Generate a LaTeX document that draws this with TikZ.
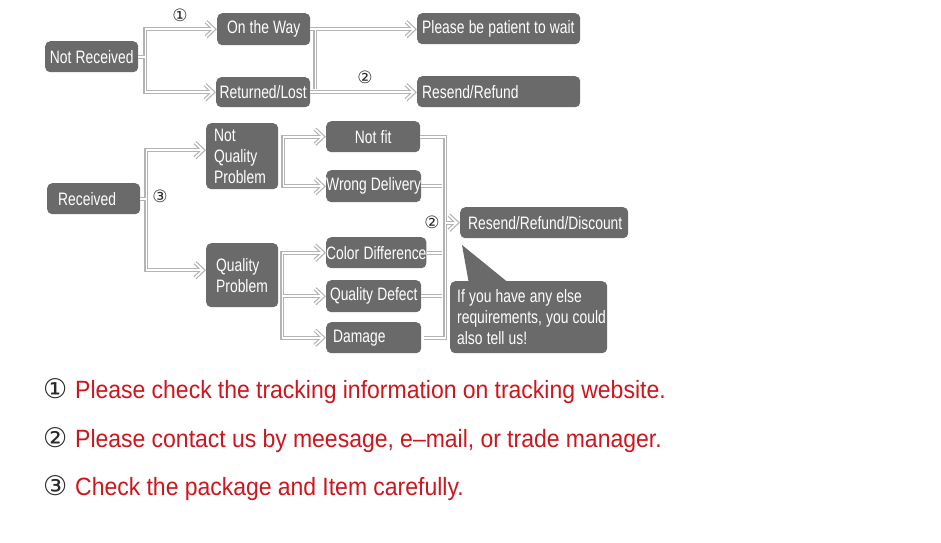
\documentclass[tikz,border=0pt]{standalone}
\usepackage{fontspec}
\usetikzlibrary{calc}
\newfontfamily\boxfont[FakeStretch=0.77]{Liberation Sans}
\newfontfamily\redfont[FakeStretch=0.92]{Liberation Sans}
\newfontfamily\symfont{DejaVu Sans}
\newcommand\bxfont{\boxfont\fontsize{18}{21}\selectfont\spaceskip=4.2pt\relax}
\newcommand\rdfont{\redfont\fontsize{25}{28}\selectfont\spaceskip=6.2pt\relax}
\newcommand\lb[2]{\makebox[#1pt][l]{#2}}
\definecolor{boxgray}{RGB}{106,106,106}
\definecolor{linegray}{RGB}{180,180,180}
\definecolor{textred}{RGB}{205,22,30}
\definecolor{numblack}{RGB}{40,40,40}
\newcommand\chv[2]{\draw[#1, shorten >=0pt, line join=miter] ($(#2)+(-11,-7.5)$) -- ($(#2)+(-3,0)$) -- ($(#2)+(-11,7.5)$);}
\newcommand\allconns[1]{%
  \draw[#1] (nr.east) -- (j1) |- (otw.west);
  \draw[#1] (nr.east) -- (j1) |- (rl.west);
  \draw[#1] (otw.east) -- (plin);
  \draw[#1] (rl.east) -- (rsin);
  \draw[#1] (j2) -- (j2 |- rl.east);
  \draw[#1] (rc.east) -- (j3) |- (nqpin);
  \draw[#1] (rc.east) -- (j3) |- (qpin);
  \draw[#1] (v1 |- wd.west) |- (nf.west);
  \draw[#1] (v1 |- nf.west) |- (wd.west);
  \draw[#1] (v2 |- dm.west) |- (cd.west);
  \draw[#1] (v2 |- cd.west) |- (dm.west);
  \draw[#1] (v2 |- qd.west) -- (qd.west);
  \draw[#1] (nf.east) -| (v3 |- dm.east) -- (dm.east);
  \draw[#1] (wd.east) -- (v3 |- wd.east);
  \draw[#1] (cd.east) -- (v3 |- cd.east);
  \draw[#1] (qd.east) -- (v3 |- qd.east);
  \draw[#1] (v3 |- rrd.west) -- (rrd.west);
  \chv{#1}{otw.west}\chv{#1}{rl.west}\chv{#1}{plin}\chv{#1}{rsin}
  \chv{#1}{nqpin}\chv{#1}{qpin}\chv{#1}{nf.west}\chv{#1}{wd.west}
  \chv{#1}{cd.west}\chv{#1}{qd.west}\chv{#1}{dm.west}\chv{#1}{rrd.west}
}
\begin{document}
\begin{tikzpicture}[x=1pt,y=-1pt,
  box/.style={fill=boxgray, rounded corners=5pt, text=white, inner sep=0pt,
    anchor=north west, font=\bxfont},
  cbox/.style={box, align=center},
  lbox/.style={box, align=left},
  num/.style={font=\symfont\fontsize{17}{17}\selectfont, text=numblack, inner sep=0pt},
  connout/.style={draw=linegray, line width=4pt, shorten >=3pt},
  connin/.style={draw=white, line width=1.6pt, shorten >=3pt},
  redtext/.style={anchor=base west, inner sep=0pt, text=textred, font=\rdfont},
  bignum/.style={anchor=base west, inner sep=0pt, text=numblack,
    font=\symfont\fontsize{27}{28}\selectfont}]
\useasboundingbox[fill=white] (0,0) rectangle (941,542);

% first block
\node[cbox, minimum width=93, minimum height=31] (nr) at (45,41) {Not Received};
\node[cbox, minimum width=93, minimum height=32] (otw) at (217,13) {On the Way};
\node[cbox, minimum width=94, minimum height=30] (rl) at (216,77) {Returned/Lost};
\node[lbox, minimum height=31, inner xsep=5] (pl) at (417,13) {\lb{153}{Please be patient to wait}};
\node[lbox, minimum height=31, inner xsep=5] (rs) at (417,76) {\lb{153}{Resend/Refund}};

% second block
\node[lbox, minimum height=31, inner xsep=11] (rc) at (47,183) {\lb{71}{Received}};
\node[lbox, minimum height=66, inner xsep=8] (nqp) at (206,123) {\lb{56}{Not}\\\lb{56}{Quality}\\\lb{56}{Problem}};
\node[lbox, minimum height=64, inner xsep=10] (qp) at (206,243) {\lb{52}{Quality}\\\lb{52}{Problem}};
\node[cbox, minimum width=94, minimum height=31] (nf) at (326,121) {Not fit};
\node[cbox, minimum width=94, minimum height=32] (wd) at (326,170) {Wrong Delivery};
\node[cbox, minimum width=95, minimum height=31] (cd) at (326,237) {Color Difference};
\node[cbox, minimum width=95, minimum height=32] (qd) at (326,280) {Quality Defect};
\node[lbox, minimum height=31, inner xsep=7] (dm) at (326,322) {\lb{81}{Damage}};
\node[lbox, minimum height=31, inner xsep=8] (rrd) at (460,207) {\lb{152}{Resend/Refund/Discount}};
\node[lbox, minimum height=72, inner xsep=7] (co) at (450,281) {\lb{143}{If you have any else}\\\lb{143}{requirements, you could}\\\lb{143}{also tell us!}};
\fill[boxgray] ($(co.north west)+(19,3)$) -- (462,245) -- ($(co.north west)+(60,3)$) -- cycle;

% junction coordinates
\coordinate (j1) at ($(nr.east)+(7,0)$);
\coordinate (j2) at ($(otw.east)+(5,0)$);
\coordinate (j3) at ($(rc.east)+(6,0)$);
\coordinate (nqpin) at ($(nqp.west)+(0,-6)$);
\coordinate (qpin) at ($(qp.west)+(0,-5)$);
\coordinate (v1) at ($(nqp.east)+(5,0)$);
\coordinate (v2) at ($(qp.east)+(4,0)$);
\coordinate (v3) at ($(nf.east)+(25,0)$);
\coordinate (plin) at (otw.east -| pl.west);
\coordinate (rsin) at (rl.east -| rs.west);

\allconns{connout}
\allconns{connin}

% step labels
\node[num] (s1) at (180,15) {①};
\node[num] (s2) at (365,77) {②};
\node[num] (s3) at (160,196) {③};
\node[num] (s4) at (432,222) {②};

% notes
\node[bignum] (c1) at (43,398) {①};
\node[redtext] (t1) at (75,398) {Please check the tracking information on tracking website.};
\node[bignum] (c2) at (43,447) {②};
\node[redtext] (t2) at (75,447) {Please contact us by meesage, e–mail, or trade manager.};
\node[bignum] (c3) at (43,495) {③};
\node[redtext] (t3) at (75,495) {Check the package and Item carefully.};
\end{tikzpicture}
\end{document}
